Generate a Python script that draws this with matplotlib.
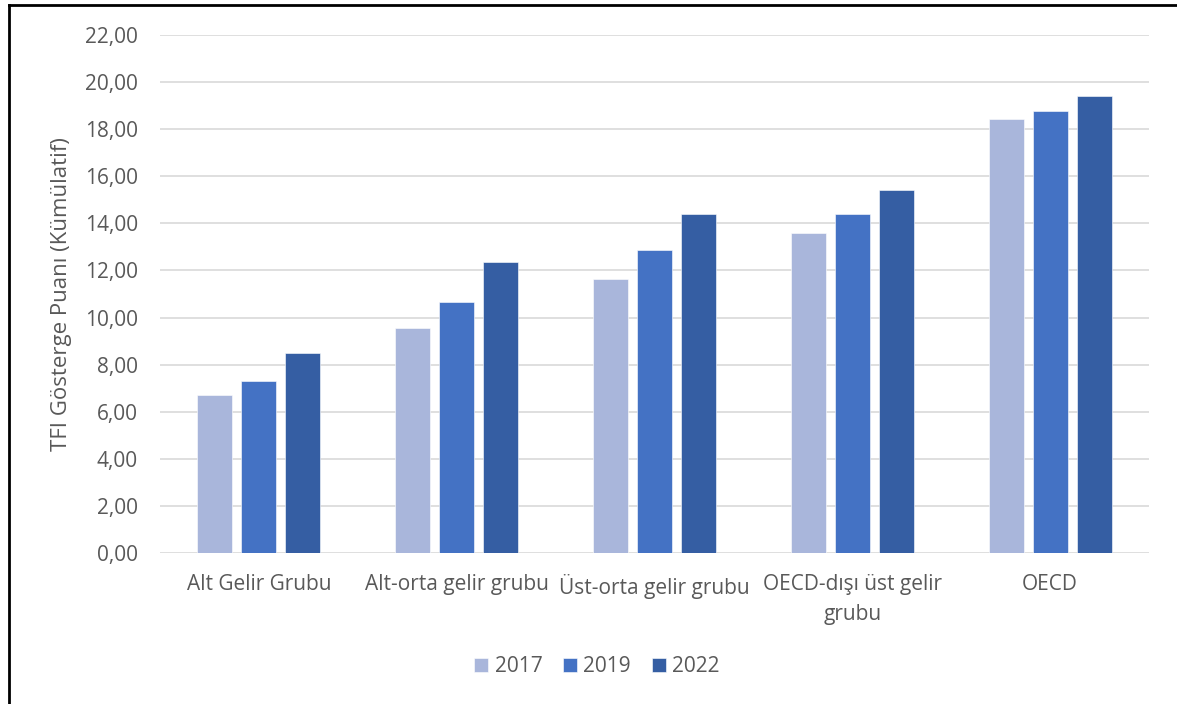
"""TFI indicator scores by income group, 2017 / 2019 / 2022."""

import matplotlib
matplotlib.use("Agg")
import matplotlib.pyplot as plt
from matplotlib.lines import Line2D
import numpy as np

# ---------------------------------------------------------------------------
# Data
# ---------------------------------------------------------------------------

categories = [
    "Alt Gelir Grubu",
    "Alt-orta gelir grubu",
    "Üst-orta gelir grubu",
    "OECD-dışı üst gelir\ngrubu",
    "OECD",
]
years = ["2017", "2019", "2022"]
values_2017 = [6.72, 9.57, 11.62, 13.58, 18.42]
values_2019 = [7.32, 10.66, 12.87, 14.40, 18.77]
values_2022 = [8.50, 12.36, 14.40, 15.42, 19.41]

y_ticks = [0, 2, 4, 6, 8, 10, 12, 14, 16, 18, 20, 22]

COLORS = ["#A9B6DB", "#4472C4", "#355EA3"]
TEXT = "#595959"
GRID = "#D9D9D9"

plt.rcParams["font.family"] = ["Open Sans", "DejaVu Sans"]

# ---------------------------------------------------------------------------
# Plot
# ---------------------------------------------------------------------------

fig = plt.figure(figsize=(11.77, 7.04), dpi=100)
ax = fig.add_axes([160 / 1177, 1 - 553 / 704, (1149 - 160) / 1177, (553 - 35) / 704])

x = np.arange(len(categories))
bar_w = 0.177
step = 0.222
series = [values_2017, values_2019, values_2022]
for i, (vals, year) in enumerate(zip(series, years)):
    ax.bar(x + (i - 1) * step, vals, width=bar_w, color=COLORS[i],
           edgecolor="white", linewidth=0.4, label=year, zorder=3)

ax.set_xlim(-0.5, len(categories) - 0.5)
ax.set_ylim(0, 22)
ax.set_yticks(y_ticks)
ax.set_yticklabels([f"{t:.2f}".replace(".", ",") for t in y_ticks])
ax.set_xticks(x)
ax.set_xticklabels(categories, linespacing=1.55)

ax.grid(axis="y", color=GRID, linewidth=1.2, zorder=0)
for side in ("top", "right", "left", "bottom"):
    ax.spines[side].set_visible(False)
ax.tick_params(axis="both", length=0, labelsize=15, colors=TEXT)
ax.tick_params(axis="y", pad=16)
ax.tick_params(axis="x", pad=15)

ax.set_ylabel("TFI Gösterge Puanı (Kümülatif)", fontsize=16, color=TEXT)
ax.yaxis.set_label_coords(-0.089, 0.5)

handles, labels = ax.get_legend_handles_labels()
fig.legend(handles, labels, loc="center", bbox_to_anchor=(597 / 1177, 1 - 667 / 704),
           ncol=3, frameon=False, fontsize=15, labelcolor=TEXT,
           handlelength=0.67, handleheight=0.67, handletextpad=0.3, columnspacing=1.0)

# outer frame (left and top edges visible)
fig.add_artist(Line2D([8.5 / 1177, 8.5 / 1177], [0, 1 - 5 / 704],
                      transform=fig.transFigure, color="black", linewidth=2))
fig.add_artist(Line2D([8.5 / 1177, 1], [1 - 5 / 704, 1 - 5 / 704],
                      transform=fig.transFigure, color="black", linewidth=2))

fig.savefig("out.png", dpi=100)
